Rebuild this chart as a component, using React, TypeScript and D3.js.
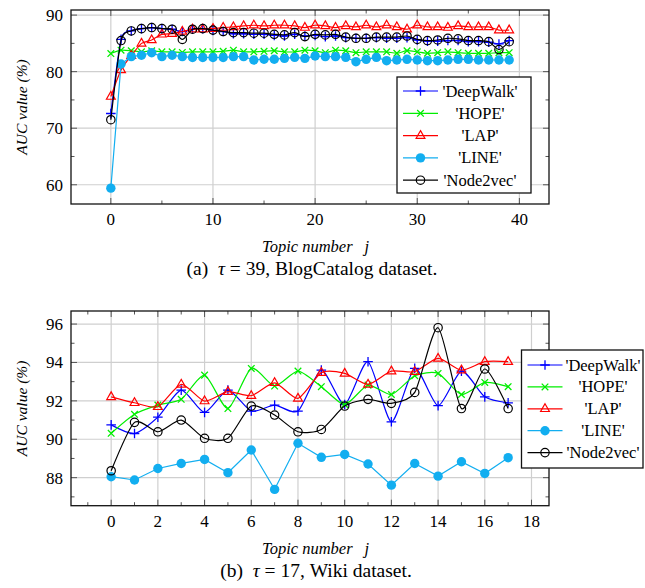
import * as d3 from "d3";
import React, { useRef, useEffect } from "react";

const W = 645,
  H = 588;

const seriesNames = ["'DeepWalk'", "'HOPE'", "'LAP'", "'LINE'", "'Node2vec'"];
const seriesColors = ["#0000ff", "#00ee00", "#ff0000", "#12aef0", "#000000"];
const seriesMarks = ["plus", "cross", "triangle", "dot", "circle"];

// (a) BlogCatalog, topic number j = 0..39
const blogDeepWalk = [72.6, 85.7, 87.2, 87.6, 87.8, 87.6, 87.5, 87.1, 87.5, 87.6, 87.3, 87.1, 86.7, 86.7, 86.6, 86.6, 86.4, 86.3, 86.6, 86.3, 86.4, 86.2, 86.3, 86.0, 85.9, 85.9, 86.0, 85.9, 85.9, 86.0, 85.6, 85.4, 85.4, 85.5, 85.5, 85.3, 85.3, 85.2, 84.9, 85.5];
const blogHOPE = [83.2, 83.8, 83.7, 83.5, 83.7, 83.5, 83.5, 83.4, 83.5, 83.5, 83.5, 83.6, 83.8, 83.5, 83.5, 83.6, 83.7, 83.5, 83.5, 83.8, 83.7, 83.35, 83.8, 83.7, 83.35, 83.5, 83.5, 83.5, 83.25, 83.7, 83.5, 83.25, 83.35, 83.5, 83.35, 83.25, 83.25, 83.25, 83.35, 83.35];
const blogLAP = [75.6, 80.3, 82.8, 85.0, 85.6, 86.6, 86.7, 87.1, 87.5, 87.5, 87.6, 87.8, 87.9, 88.1, 88.2, 88.1, 88.2, 88.2, 88.1, 87.8, 88.2, 88.1, 87.8, 88.1, 87.9, 88.2, 87.9, 88.2, 87.9, 87.5, 88.2, 87.9, 87.9, 87.8, 88.1, 87.9, 87.9, 87.9, 87.35, 87.35];
const blogLINE = [59.4, 81.35, 82.65, 82.9, 83.35, 82.65, 82.9, 82.65, 82.5, 82.5, 82.5, 82.5, 82.65, 82.65, 82.06, 82.2, 82.2, 82.35, 82.53, 82.35, 82.76, 82.65, 82.65, 82.53, 81.76, 82.18, 82.53, 81.94, 82.06, 82.18, 82.06, 81.94, 81.94, 82.06, 82.18, 82.18, 82.06, 82.06, 82.06, 82.06];
const blogNode2vec = [71.5, 85.5, 87.2, 87.6, 87.8, 87.6, 87.5, 85.7, 87.5, 87.6, 87.35, 87.1, 86.9, 86.9, 86.8, 86.8, 86.6, 86.5, 86.9, 86.2, 86.6, 86.5, 86.6, 86.1, 85.9, 85.9, 86.1, 86.1, 86.1, 86.3, 85.7, 85.5, 85.6, 85.9, 85.8, 85.5, 85.5, 85.3, 83.9, 85.3];
const blogXTicks = [0, 10, 20, 30, 40];
const blogXMinor = [5, 15, 25, 35];
const blogYTicks = [60, 70, 80, 90];
const blogYMinor = [65, 75, 85];

// (b) Wiki, topic number j = 0..17
const wikiDeepWalk = [90.75, 90.3, 91.15, 92.56, 91.4, 92.56, 91.47, 91.78, 91.47, 93.6, 91.81, 94.04, 90.91, 93.69, 91.75, 93.55, 92.21, 91.9];
const wikiHOPE = [90.31, 91.3, 91.78, 92.08, 93.34, 91.6, 93.69, 92.77, 93.55, 92.74, 91.81, 92.82, 92.33, 93.31, 93.43, 92.33, 92.96, 92.74];
const wikiLAP = [92.21, 91.9, 91.69, 92.86, 91.99, 92.48, 92.27, 92.94, 92.13, 93.47, 93.43, 92.86, 93.55, 93.52, 94.21, 93.6, 94.04, 94.04];
const wikiLINE = [88.05, 87.88, 88.48, 88.74, 88.95, 88.26, 89.44, 87.39, 89.79, 89.06, 89.21, 88.71, 87.61, 88.74, 88.08, 88.83, 88.22, 89.04];
const wikiNode2vec = [88.36, 90.88, 90.39, 91.0, 90.05, 90.05, 91.73, 91.26, 90.39, 90.51, 91.73, 92.08, 91.87, 92.44, 95.81, 91.6, 93.66, 91.6];
const wikiXTicks = [0, 2, 4, 6, 8, 10, 12, 14, 16, 18];
const wikiXMinor = [-1, 1, 3, 5, 7, 9, 11, 13, 15, 17];
const wikiYTicks = [88, 90, 92, 94, 96];
const wikiYMinor = [87, 89, 91, 93, 95];

const SERIF = "Liberation Serif, Times New Roman, DejaVu Serif, serif";

function drawMark(g, type, color, cx, cy) {
  if (type === "plus") {
    g.append("path")
      .attr("d", `M${cx - 4.8},${cy}H${cx + 4.8}M${cx},${cy - 4.8}V${cy + 4.8}`)
      .attr("stroke", color)
      .attr("stroke-width", 1.3)
      .attr("fill", "none");
  } else if (type === "cross") {
    const r = 3.3;
    g.append("path")
      .attr("d", `M${cx - r},${cy - r}L${cx + r},${cy + r}M${cx - r},${cy + r}L${cx + r},${cy - r}`)
      .attr("stroke", color)
      .attr("stroke-width", 1.3)
      .attr("fill", "none");
  } else if (type === "triangle") {
    g.append("path")
      .attr("d", `M${cx},${cy - 5}L${cx + 4.4},${cy + 2.7}L${cx - 4.4},${cy + 2.7}Z`)
      .attr("stroke", color)
      .attr("stroke-width", 1.2)
      .attr("fill", "none");
  } else if (type === "dot") {
    g.append("circle").attr("cx", cx).attr("cy", cy).attr("r", 4.7).attr("fill", color);
  } else {
    g.append("circle")
      .attr("cx", cx)
      .attr("cy", cy)
      .attr("r", 4.2)
      .attr("fill", "none")
      .attr("stroke", color)
      .attr("stroke-width", 1.2);
  }
}

function txt(g, size, italic) {
  return g
    .append("text")
    .attr("font-family", SERIF)
    .attr("font-size", size)
    .attr("font-style", italic ? "italic" : "normal")
    .attr("fill", "#000");
}

function drawPanel(svg, p) {
  const g = svg.append("g");
  const x = d3.scaleLinear().domain(p.xDomain).range([p.left, p.right]);
  const y = d3.scaleLinear().domain(p.yDomain).range([p.bottom, p.top]);

  // grid
  g.append("g")
    .selectAll("line")
    .data(p.xTicks.filter((d) => x(d) > p.left && x(d) < p.right))
    .join("line")
    .attr("x1", (d) => x(d))
    .attr("x2", (d) => x(d))
    .attr("y1", p.top)
    .attr("y2", p.bottom)
    .attr("stroke", "#cfcfcf")
    .attr("stroke-width", 1.2);
  g.append("g")
    .selectAll("line")
    .data(p.yTicks)
    .join("line")
    .attr("x1", p.left)
    .attr("x2", p.right)
    .attr("y1", (d) => y(d))
    .attr("y2", (d) => y(d))
    .attr("stroke", "#cfcfcf")
    .attr("stroke-width", 1.2);

  // ticks inside, all four sides
  const tick = (vals, len, horiz) => {
    vals.forEach((v) => {
      if (horiz) {
        const xx = x(v);
        if (xx < p.left || xx > p.right) return;
        g.append("path")
          .attr("d", `M${xx},${p.bottom}v${-len}M${xx},${p.top}v${len}`)
          .attr("stroke", "#555")
          .attr("stroke-width", 1);
      } else {
        const yy = y(v);
        g.append("path")
          .attr("d", `M${p.left},${yy}h${len}M${p.right},${yy}h${-len}`)
          .attr("stroke", "#555")
          .attr("stroke-width", 1);
      }
    });
  };
  tick(p.xTicks, 6, true);
  tick(p.xMinor, 3.5, true);
  tick(p.yTicks, 6, false);
  tick(p.yMinor, 3.5, false);

  // series
  p.series.forEach((vals, i) => {
    const line = d3
      .line()
      .x((d, j) => x(j))
      .y((d) => y(d))
      .curve(seriesMarks[i] === "dot" ? d3.curveLinear : d3.curveCardinal.tension(0.3));
    g.append("path")
      .attr("d", line(vals))
      .attr("fill", "none")
      .attr("stroke", seriesColors[i])
      .attr("stroke-width", 1.2);
    vals.forEach((v, j) => drawMark(g, seriesMarks[i], seriesColors[i], x(j), y(v)));
  });

  // frame
  g.append("rect")
    .attr("x", p.left)
    .attr("y", p.top)
    .attr("width", p.right - p.left)
    .attr("height", p.bottom - p.top)
    .attr("fill", "none")
    .attr("stroke", "#111")
    .attr("stroke-width", 1.3);

  // tick labels
  p.xTicks.forEach((d) => {
    txt(g, 17, false)
      .attr("x", x(d))
      .attr("y", p.bottom + 21)
      .attr("text-anchor", "middle")
      .text(d);
  });
  p.yTicks.forEach((d) => {
    txt(g, 17, false)
      .attr("x", p.left - 8)
      .attr("y", y(d) + 6)
      .attr("text-anchor", "end")
      .text(d);
  });

  // axis labels
  const xl = txt(g, 16.5, true)
    .attr("x", 262)
    .attr("y", p.bottom + 48);
  xl.append("tspan").text("Topic number");
  xl.append("tspan").attr("dx", 12).text("j");
  txt(g, 15.5, true)
    .attr("transform", `translate(27,${(p.top + p.bottom) / 2}) rotate(-90)`)
    .attr("text-anchor", "middle")
    .text("AUC value (%)");

  // caption
  const cap = txt(g, 19.5, false)
    .attr("x", p.capX)
    .attr("y", p.bottom + 71)
    .attr("text-anchor", "middle")
    .attr("xml:space", "preserve");
  cap.append("tspan").text(p.capLabel + "  ");
  cap.append("tspan").attr("font-style", "italic").text("τ");
  cap.append("tspan").text(p.capRest);

  // legend
  const L = p.legend;
  g.append("rect")
    .attr("x", L.x)
    .attr("y", L.y)
    .attr("width", L.w)
    .attr("height", L.h)
    .attr("fill", "#fff")
    .attr("stroke", "#111")
    .attr("stroke-width", 1.3);
  seriesNames.forEach((name, i) => {
    const cy = L.y + L.first + i * L.step;
    g.append("line")
      .attr("x1", L.x + 6)
      .attr("x2", L.x + 41)
      .attr("y1", cy)
      .attr("y2", cy)
      .attr("stroke", seriesColors[i])
      .attr("stroke-width", 1.2);
    drawMark(g, seriesMarks[i], seriesColors[i], L.x + 23.5, cy);
    txt(g, 16.5, false)
      .attr("x", L.textX)
      .attr("y", cy + 5.5)
      .attr("text-anchor", "middle")
      .text(name);
  });
}

function App() {
  const ref = useRef(null);

  useEffect(() => {
    const svg = d3.select(ref.current);
    svg.selectAll("*").remove();

    drawPanel(svg, {
      left: 71,
      right: 549,
      top: 10,
      bottom: 204,
      xDomain: [-3.9, 42.9],
      yDomain: [56.6, 90.9],
      xTicks: blogXTicks,
      xMinor: blogXMinor,
      yTicks: blogYTicks,
      yMinor: blogYMinor,
      series: [blogDeepWalk, blogHOPE, blogLAP, blogLINE, blogNode2vec],
      capLabel: "(a)",
      capRest: " = 39, BlogCatalog dataset.",
      capX: 312,
      legend: { x: 397, y: 77, w: 134, h: 116, first: 14, step: 22.3, textX: 480 },
    });

    drawPanel(svg, {
      left: 71,
      right: 549,
      top: 311,
      bottom: 505.7,
      xDomain: [-1.72, 18.75],
      yDomain: [86.54, 96.68],
      xTicks: wikiXTicks,
      xMinor: wikiXMinor,
      yTicks: wikiYTicks,
      yMinor: wikiYMinor,
      series: [wikiDeepWalk, wikiHOPE, wikiLAP, wikiLINE, wikiNode2vec],
      capLabel: "(b)",
      capRest: " = 17, Wiki dataset.",
      capX: 316,
      legend: { x: 521.5, y: 350, w: 121.5, h: 118, first: 15, step: 21.9, textX: 603 },
    });
  }, []);

  return (
    <svg
      ref={ref}
      width={W}
      height={H}
      style={{ position: "absolute", left: 0, top: 0, background: "#fff" }}
    ></svg>
  );
}

export default App;
